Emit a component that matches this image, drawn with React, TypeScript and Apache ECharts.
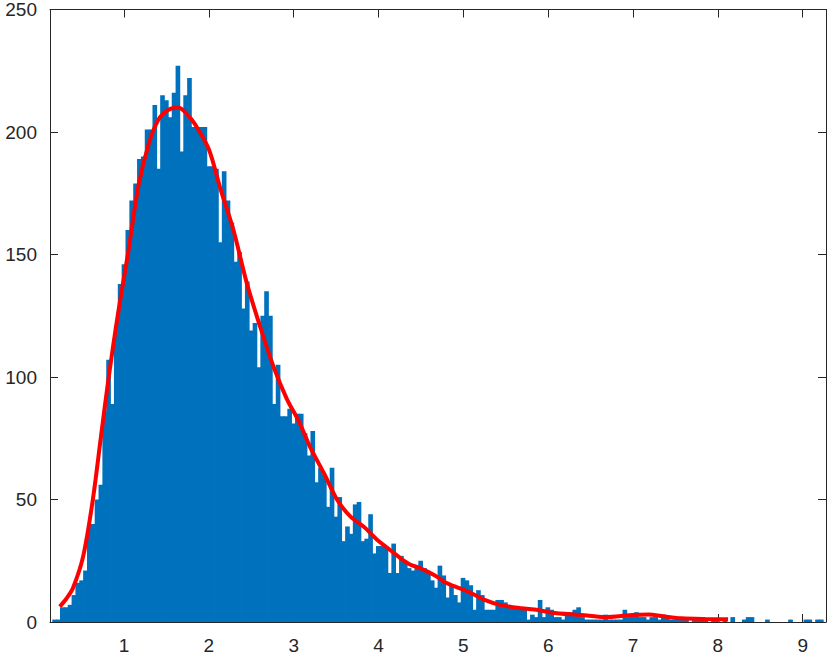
import React, { useEffect, useRef } from "react";
import * as echarts from "echarts";

// Histogram definition (bin edges = BIN_START + i * BIN_WIDTH)
const BIN_START = 0.1596;
const BIN_WIDTH = 0.045415;
const COUNTS = [
  1, 1, 6, 6, 7, 11, 16, 17, 21, 40,
  40, 50, 56, 86, 107, 89, 121, 138, 146, 160,
  172, 179, 189, 190, 201, 201, 211, 185, 215, 213,
  206, 216, 227, 192, 215, 222, 202, 202, 202, 202,
  186, 186, 185, 155, 184, 172, 163, 147, 151, 128,
  139, 119, 122, 104, 125, 135, 125, 89, 105, 84,
  84, 87, 81, 85, 85, 77, 68, 78, 57, 63,
  60, 47, 63, 43, 51, 33, 39, 36, 48, 49,
  33, 34, 44, 28, 31, 31, 31, 20, 32, 20,
  27, 25, 22, 21, 22, 25, 22, 20, 17, 14,
  23, 19, 10, 15, 11, 8, 18, 17, 15, 5,
  13, 11, 5, 5, 5, 9, 9, 8, 7, 6,
  6, 6, 6, 1, 3, 2, 9, 2, 6, 5,
  2, 2, 1, 4, 4, 5, 6, 2, 1, 1,
  1, 1, 1, 3, 1, 1, 1, 1, 5, 2,
  3, 4, 2, 2, 1, 2, 2, 1, 3, 2,
  1, 1, 1, 1, 1, 0, 1, 2, 1, 1,
  0, 1, 1, 0, 1, 0, 2, 0, 0, 1,
  2, 2, 0, 0, 0, 1, 0, 0, 0, 0,
  0, 1, 0, 0, 0, 1, 1, 0, 1, 1,
];

// Fitted density curve (scaled to counts)
const FIT_X = [
  0.243, 0.32, 0.4, 0.52, 0.633, 0.726, 0.82, 0.93, 1.05, 1.17,
  1.29, 1.405, 1.52, 1.64, 1.75, 1.84, 2.0, 2.135, 2.29,
  2.45, 2.61, 2.765, 2.92, 3.06, 3.2, 3.36, 3.51, 3.67, 3.83,
  3.99, 4.14, 4.26, 4.37, 4.49, 4.66, 4.81, 5.05, 5.25, 5.44,
  5.68, 5.88, 6.04, 6.39, 6.67, 6.98, 7.18, 7.38, 7.57, 7.85, 8.12,
];
const FIT_Y = [
  6.3, 9.5, 14, 27, 50, 75, 100, 126, 151, 178,
  195, 205, 209, 210, 207, 203, 193, 177, 160,
  138, 120, 104, 91, 82, 71, 60.5, 50, 43, 38.8,
  33.4, 29.3, 26, 23.5, 22, 19.1, 15.8, 12.5, 9, 6.9,
  5.6, 4.9, 3.8, 2.85, 2.0, 2.85, 3.1, 2.2, 1.5, 1.2, 1.1,
];

const X_MIN = 0.1278;
const X_MAX = 9.2746;
const X_TICKS = [1, 2, 3, 4, 5, 6, 7, 8, 9];
const Y_MIN = 0;
const Y_MAX = 250;
const Y_STEP = 50;

const AXIS_COLOR = "#262626";
const FONT = "'Liberation Sans', Arial, Helvetica, sans-serif";

export default function App() {
  const ref = useRef<HTMLDivElement>(null);

  useEffect(() => {
    if (!ref.current) return;
    const chart = echarts.init(ref.current, null, { renderer: "svg" });

    const bins = COUNTS.map((c, i) => [
      BIN_START + i * BIN_WIDTH,
      BIN_START + (i + 1) * BIN_WIDTH,
      c,
    ]);
    const fit = FIT_X.map((x, i) => [x, FIT_Y[i]]);

    const lineStyle = { color: AXIS_COLOR, width: 1 };
    const labelStyle = { color: AXIS_COLOR, fontSize: 19, fontFamily: FONT };

    chart.setOption({
      animation: false,
      grid: { left: 50, right: 4, top: 7, bottom: 37, containLabel: false },
      xAxis: [
        {
          type: "value",
          min: X_MIN,
          max: X_MAX,
          axisLine: { show: true, onZero: false, lineStyle },
          axisTick: { show: true, inside: true, length: 8, lineStyle, customValues: X_TICKS },
          axisLabel: { ...labelStyle, margin: 14, customValues: X_TICKS },
          splitLine: { show: false },
        },
        {
          type: "value",
          position: "top",
          min: X_MIN,
          max: X_MAX,
          axisLine: { show: true, onZero: false, lineStyle },
          axisTick: { show: true, inside: true, length: 8, lineStyle, customValues: X_TICKS },
          axisLabel: { show: false },
          splitLine: { show: false },
        },
      ],
      yAxis: [
        {
          type: "value",
          min: Y_MIN,
          max: Y_MAX,
          interval: Y_STEP,
          axisLine: { show: true, onZero: false, lineStyle },
          axisTick: { show: true, inside: true, length: 8, lineStyle },
          axisLabel: { ...labelStyle, margin: 13 },
          splitLine: { show: false },
        },
        {
          type: "value",
          position: "right",
          min: Y_MIN,
          max: Y_MAX,
          interval: Y_STEP,
          axisLine: { show: true, onZero: false, lineStyle },
          axisTick: { show: true, inside: true, length: 8, lineStyle },
          axisLabel: { show: false },
          splitLine: { show: false },
        },
      ],
      series: [
        {
          type: "custom",
          xAxisIndex: 0,
          yAxisIndex: 0,
          data: bins,
          encode: { x: [0, 1], y: 2 },
          renderItem: (params: any, api: any) => {
            const v = api.value(2);
            if (!v) return null;
            const p0 = api.coord([api.value(0), v]);
            const p1 = api.coord([api.value(1), 0]);
            return {
              type: "rect",
              shape: {
                x: p0[0] - 0.4,
                y: p0[1],
                width: p1[0] - p0[0] + 0.8,
                height: p1[1] - p0[1],
              },
              style: { fill: "#0072BD" },
            };
          },
          z: 1,
        },
        {
          type: "line",
          xAxisIndex: 0,
          yAxisIndex: 0,
          data: fit,
          smooth: 0.3,
          showSymbol: false,
          symbol: "none",
          lineStyle: { color: "#FF0000", width: 4 },
          z: 3,
        },
      ],
    });

    return () => chart.dispose();
  }, []);

  return (
    <div
      ref={ref}
      style={{ position: "fixed", left: 0, top: 0, width: 830, height: 659, background: "#fff" }}
    />
  );
}
